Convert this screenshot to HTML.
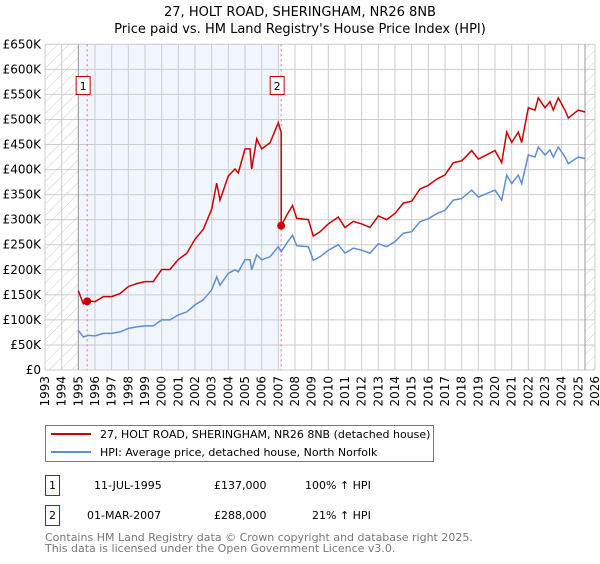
<!DOCTYPE html>
<html><head><meta charset="utf-8"><style>
body{margin:0;background:#fff;font-family:"DejaVu Sans","Liberation Sans",sans-serif;}
svg text{font-family:"DejaVu Sans","Liberation Sans",sans-serif;}
</style></head><body>
<svg id="chart" width="600" height="560" viewBox="0 0 600 560" xmlns="http://www.w3.org/2000/svg">
<defs>
<pattern id="hatch" patternUnits="userSpaceOnUse" width="8" height="8" patternTransform="rotate(45)">
<line x1="0" y1="0" x2="0" y2="8" stroke="#ccc" stroke-width="1"/></pattern>
</defs>
<text x="300" y="16" text-anchor="middle" font-size="13">27, HOLT ROAD, SHERINGHAM, NR26 8NB</text>
<text x="300" y="33" text-anchor="middle" font-size="13">Price paid vs. HM Land Registry's House Price Index (HPI)</text>
<g id="plot"></g>
<g>
<rect x="45.5" y="425.5" width="388" height="36" fill="#fff" stroke="#777"/>
<line x1="51" y1="434" x2="91" y2="434" stroke="#cc0000" stroke-width="2"/>
<text x="100" y="438" font-size="11">27, HOLT ROAD, SHERINGHAM, NR26 8NB (detached house)</text>
<line x1="51" y1="452" x2="91" y2="452" stroke="#5b8fd4" stroke-width="2"/>
<text x="100" y="456" font-size="11">HPI: Average price, detached house, North Norfolk</text>
</g>
<g font-size="11">
<rect x="45.5" y="475.5" width="14" height="20" fill="#fff" stroke="#cc0000"/>
<text x="52.5" y="489" text-anchor="middle">1</text>
<text x="94" y="489">11-JUL-1995</text><text x="214" y="489">£137,000</text><text x="305" y="489">100% ↑ HPI</text>
<rect x="45.5" y="505.5" width="14" height="20" fill="#fff" stroke="#cc0000"/>
<text x="52.5" y="519" text-anchor="middle">2</text>
<text x="87" y="519">01-MAR-2007</text><text x="214" y="519">£288,000</text><text x="312" y="519">21% ↑ HPI</text>
</g>
<g font-size="11" fill="#777">
<text x="45" y="541">Contains HM Land Registry data © Crown copyright and database right 2025.</text>
<text x="45" y="552">This data is licensed under the Open Government Licence v3.0.</text>
</g>
</svg>
<script>
const hpiYears=[1995.0,1995.3,1995.6,1996,1996.5,1997,1997.5,1998,1998.5,1999,1999.5,2000,2000.5,2001,2001.5,2002,2002.5,2003,2003.3,2003.5,2004,2004.4,2004.6,2005,2005.3,2005.4,2005.7,2006,2006.5,2007,2007.17,2007.5,2007.85,2008.1,2008.8,2009.1,2009.5,2010,2010.6,2011,2011.5,2012,2012.5,2013,2013.5,2014,2014.5,2015,2015.5,2016,2016.5,2017,2017.5,2018,2018.6,2019,2019.5,2020,2020.4,2020.7,2021,2021.4,2021.6,2022,2022.4,2022.6,2023,2023.3,2023.5,2023.8,2024.2,2024.4,2025,2025.4];
const hpiValues=[79,66,69,68,73,73,76,83,86,88,88,100,100,110,116,130,140,160,186,169,193,200,196,220,220,200,230,220,226,246,236,253,269,248,246,219,226,239,250,233,243,239,233,252,246,256,273,276,296,302,312,319,339,342,359,345,352,359,339,389,372,389,372,429,425,445,429,439,425,445,425,412,425,422];
const saleYears=[1995.53,2007.17];
const salePrices=[137,288];
const yTicks=[0,50,100,150,200,250,300,350,400,450,500,550,600,650];
const xTicks=[1993,1994,1995,1996,1997,1998,1999,2000,2001,2002,2003,2004,2005,2006,2007,2008,2009,2010,2011,2012,2013,2014,2015,2016,2017,2018,2019,2020,2021,2022,2023,2024,2025,2026];
const X0=45,X1=595,Y0=370,Y1=44.3;
const xs=y=>X0+(y-1993)/(2026-1993)*(X1-X0);
const ys=v=>Y0-v/650*(Y0-Y1);
const NS='http://www.w3.org/2000/svg';
const g=document.getElementById('plot');
function mk(t,a,p){const e=document.createElementNS(NS,t);for(const k in a)e.setAttribute(k,a[k]);(p||g).appendChild(e);return e;}
const hpiAt=t=>{for(let i=0;i<hpiYears.length-1;i++){if(t<=hpiYears[i+1]){const f=(t-hpiYears[i])/(hpiYears[i+1]-hpiYears[i]);return hpiValues[i]+f*(hpiValues[i+1]-hpiValues[i]);}}return hpiValues[hpiValues.length-1];};
let e=mk('rect',{x:X0,y:Y1,width:X1-X0,height:Y0-Y1,fill:'#fff'});

e=mk('rect',{x:xs(1995),y:Y1,width:xs(saleYears[1])-xs(1995),height:Y0-Y1,fill:'#eef3fc',opacity:0.8});

e=mk('rect',{x:X0,y:Y1,width:xs(1995)-X0,height:Y0-Y1,fill:'url(#hatch)'});

e=mk('rect',{x:xs(2025.4),y:Y1,width:X1-xs(2025.4),height:Y0-Y1,fill:'url(#hatch)'});

xTicks.forEach(t=>{const l=mk('line',{x1:xs(t),x2:xs(t),y1:Y1,y2:Y0,stroke:'#ccc'});

const tx=mk('text',{x:0,y:0,transform:`translate(${xs(t)+4},376) rotate(-90)`,'text-anchor':'end','font-size':12});tx.textContent=t;
});
yTicks.forEach(t=>{const l=mk('line',{x1:X0,x2:X1,y1:ys(t),y2:ys(t),stroke:'#ccc'});

const tx=mk('text',{x:41,y:ys(t)+4,'text-anchor':'end','font-size':12});tx.textContent=t===0?'£0':'£'+t+'K';
});
e=mk('line',{x1:xs(1995),x2:xs(1995),y1:Y1,y2:Y0,stroke:'#999'});

e=mk('line',{x1:xs(2025.4),x2:xs(2025.4),y1:Y1,y2:Y0,stroke:'#999'});

saleYears.forEach((s,i)=>{const l=mk('line',{x1:xs(s),x2:xs(s),y1:Y1,y2:Y0,stroke:'#f07070','stroke-dasharray':'2,3'});

const r=mk('rect',{x:xs(s)-11,y:76.5,width:14,height:18,fill:'#fff',stroke:'#cc0000'});

const t=mk('text',{x:xs(s)-4,y:90,'text-anchor':'middle','font-size':11});t.textContent=i+1;
});
let d=hpiYears.map((t,i)=>(i?'L':'M')+xs(t).toFixed(1)+','+ys(hpiValues[i]).toFixed(1)).join('');
e=mk('path',{d:d,fill:'none',stroke:'#5b8fd4','stroke-width':1.5});

const r1=salePrices[0]/hpiAt(saleYears[0]),r2=salePrices[1]/hpiAt(saleYears[1]);
let pts=[];
hpiYears.forEach((t,i)=>{if(t<saleYears[1])pts.push([t,hpiValues[i]*r1]);});
pts.push([saleYears[1],hpiAt(saleYears[1])*r1]);pts.push([saleYears[1],salePrices[1]]);
hpiYears.forEach((t,i)=>{if(t>saleYears[1])pts.push([t,hpiValues[i]*r2]);});
d=pts.map((p,i)=>(i?'L':'M')+xs(p[0]).toFixed(1)+','+ys(p[1]).toFixed(1)).join('');
e=mk('path',{d:d,fill:'none',stroke:'#cc0000','stroke-width':1.5});

saleYears.forEach((s,i)=>{const c=mk('circle',{cx:xs(s),cy:ys(salePrices[i]),r:4,fill:'#cc0000'});
});
</script>
</body></html>
